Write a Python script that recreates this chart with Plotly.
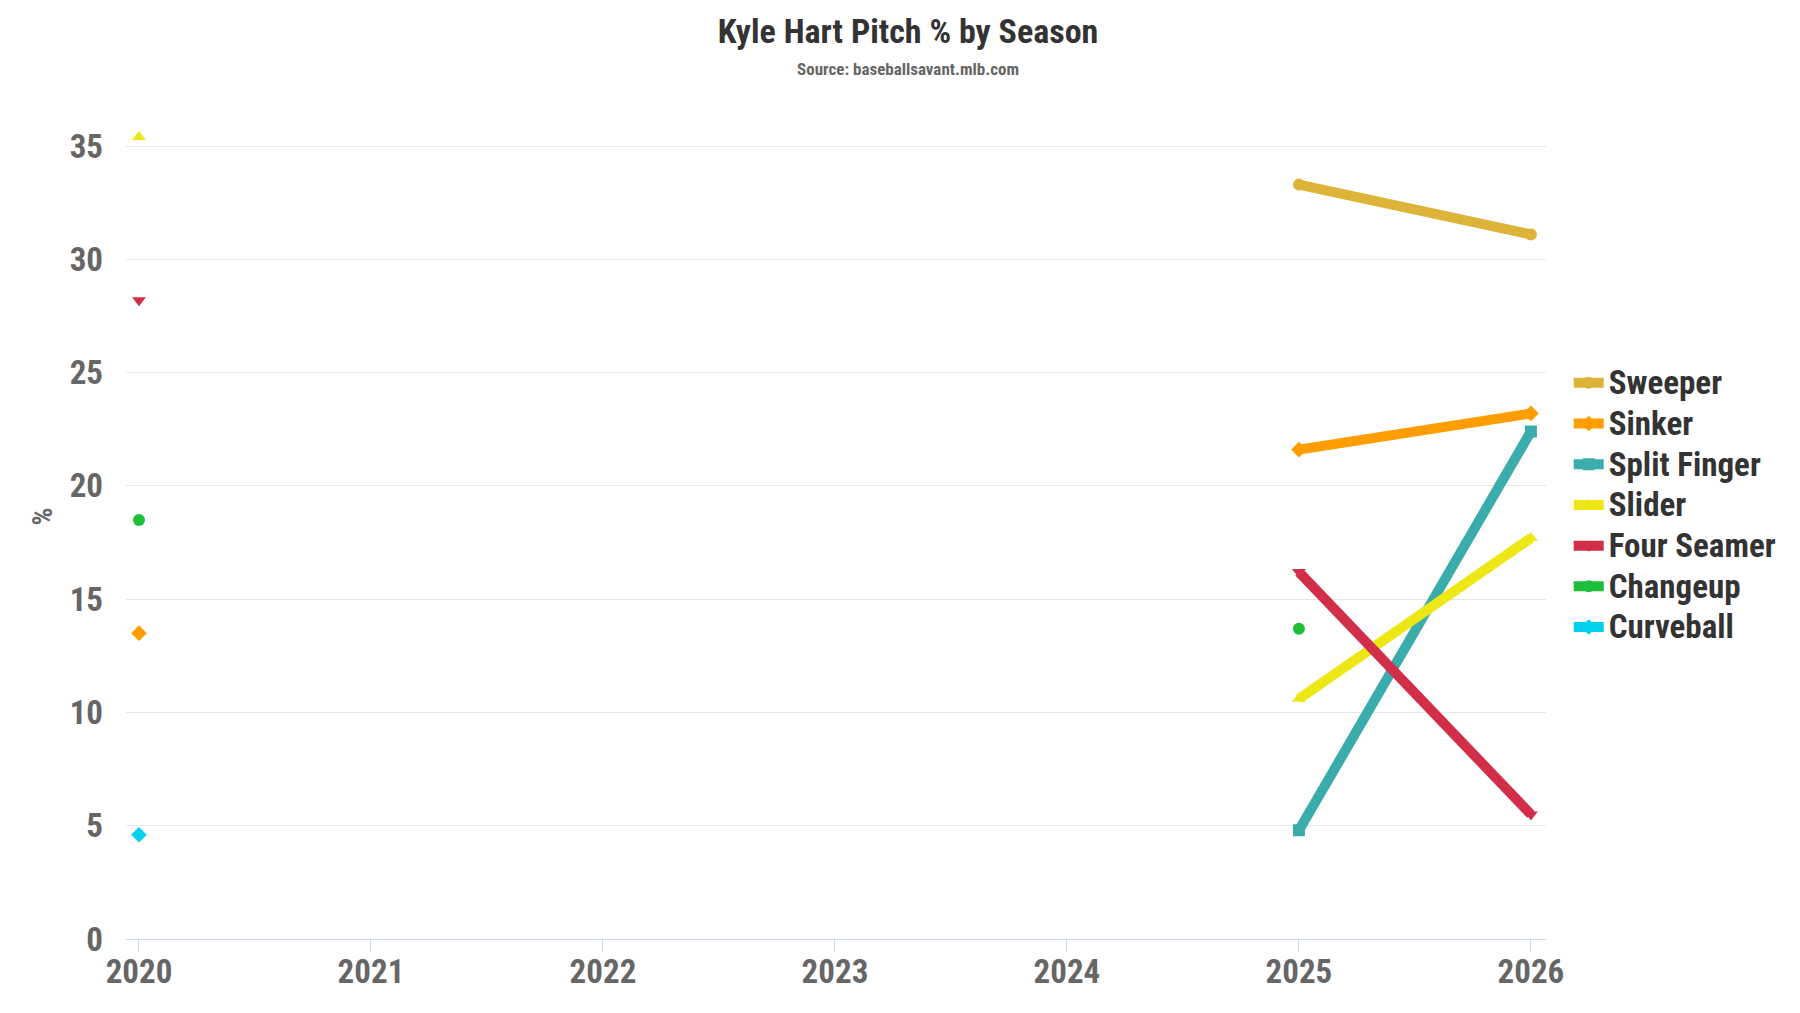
import plotly.graph_objects as go

# seasons on the x axis
seasons = [2020, 2021, 2022, 2023, 2024, 2025, 2026]

# pitch usage % per season (None = not thrown that season)
sweeper = [None, None, None, None, None, 33.3, 31.1]
sinker = [13.5, None, None, None, None, 21.6, 23.2]
split_finger = [None, None, None, None, None, 4.8, 22.4]
slider = [35.4, None, None, None, None, 10.6, 17.7]
four_seamer = [28.2, None, None, None, None, 16.2, 5.5]
changeup = [18.5, None, None, None, None, 13.7, None]
curveball = [4.6, None, None, None, None, None, None]

pitch_names = ['Sweeper', 'Sinker', 'Split Finger', 'Slider', 'Four Seamer', 'Changeup', 'Curveball']
pitch_values = [sweeper, sinker, split_finger, slider, four_seamer, changeup, curveball]
pitch_colors = ['#DDB33A', '#FE9D00', '#3BACAC', '#EEE716', '#D22D49', '#1DBE3A', '#00D1ED']
pitch_symbols = ['circle', 'diamond', 'square', 'triangle-up', 'triangle-down', 'circle', 'diamond']

FONT = "Roboto Condensed, Liberation Sans Narrow, Roboto, sans-serif"

# plot area in pixels (used to place title bits in paper coords)
M_L, M_R, M_T, M_B = 118, 262, 86, 82
PLOT_W = 1800 - M_L - M_R
PLOT_H = 1013 - M_T - M_B


def main():
    fig = go.Figure()

    for name, vals, color, sym in zip(pitch_names, pitch_values, pitch_colors, pitch_symbols):
        fig.add_trace(go.Scatter(
            x=seasons, y=vals,
            # bigger text than the legend font so the rows stay tight
            name=f'<span style="font-size:33px">{name}</span>',
            mode='lines+markers',
            connectgaps=False,
            line=dict(color=color, width=10),
            marker=dict(color=color, size=12, symbol=sym),
        ))

    fig.update_layout(
        width=1800, height=1013,
        paper_bgcolor='white', plot_bgcolor='white',
        font=dict(family=FONT, color='#666666'),
        margin=dict(l=M_L, r=M_R, t=M_T, b=M_B),
        title=dict(text="<b>Kyle Hart Pitch % by Season</b>",
                   x=0.5, xanchor='center', y=1 - 23 / 1013, yanchor='middle',
                   font=dict(size=34, color='#333333', family=FONT)),
        annotations=[dict(text="<b>Source: baseballsavant.mlb.com</b>",
                          xref='paper', yref='paper', x=(900 - M_L) / PLOT_W,
                          y=1.0 + (M_T - 61) / PLOT_H, xanchor='center', yanchor='middle',
                          showarrow=False, font=dict(size=17, color='#666666', family=FONT))],
        showlegend=True,
        legend=dict(x=1.016, xanchor='left', y=(931 - 497) / PLOT_H, yanchor='middle',
                    font=dict(size=29, color='#333333', family=FONT, weight='bold'),
                    itemwidth=30, tracegroupgap=0, bgcolor='rgba(0,0,0,0)'),
        xaxis=dict(range=[2019.944, 2026.065], tickmode='array', tickvals=seasons,
                   ticktext=[f"<b>{s}</b>" for s in seasons],
                   showgrid=False, zeroline=False,
                   showline=True, linecolor='#ccd6eb', linewidth=1,
                   ticks='outside', ticklen=12, tickcolor='#ccd6eb', ticklabelstandoff=-9,
                   tickfont=dict(size=33, color='#666666')),
        yaxis=dict(range=[0, 37.3], tickvals=[0, 5, 10, 15, 20, 25, 30, 35],
                   ticktext=[f"<b>{v}</b>" for v in [0, 5, 10, 15, 20, 25, 30, 35]],
                   showgrid=True, gridcolor='#e6e6e6', gridwidth=1,
                   zeroline=False, showline=False, ticks='', ticklabelstandoff=22,
                   tickfont=dict(size=33, color='#666666'),
                   title=dict(text="<b>%</b>", font=dict(size=28, color='#666666'), standoff=8)),
    )

    fig.write_html("out.html")


if __name__ == "__main__":
    main()
